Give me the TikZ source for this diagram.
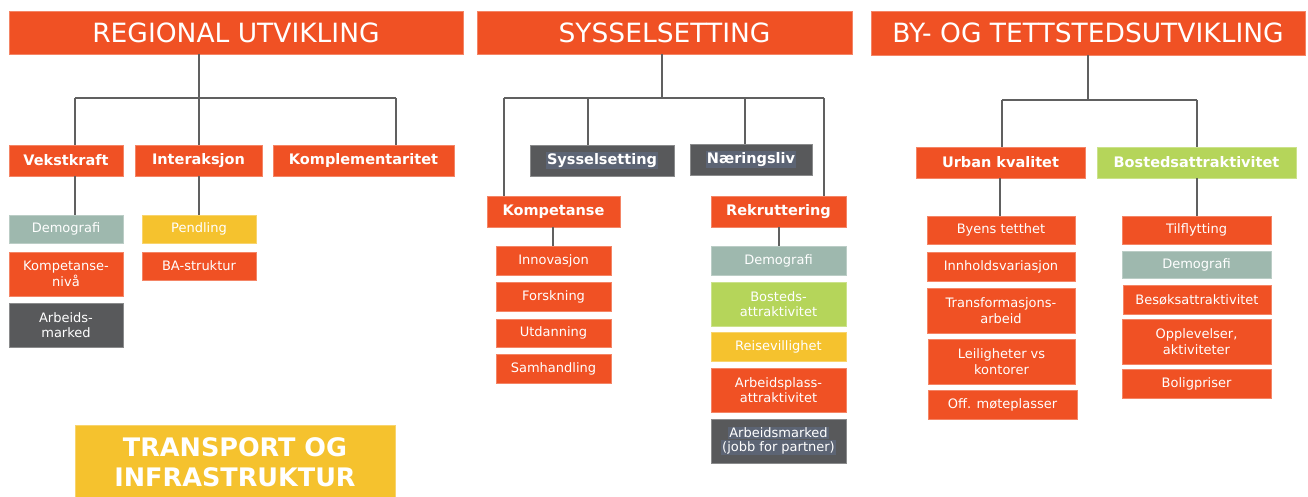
\documentclass[tikz,border=0pt]{standalone}
\usepackage{fontspec}
\setmainfont{DejaVu Sans}
\definecolor{orn}{RGB}{240,81,36}
\definecolor{sage}{RGB}{158,184,174}
\definecolor{yel}{RGB}{245,194,46}
\definecolor{lime}{RGB}{181,213,90}
\definecolor{slate}{RGB}{88,89,91}
\definecolor{hlgray}{RGB}{92,100,116}
\definecolor{wire}{RGB}{96,96,96}
% selection-style highlight behind a line of text
\newcommand{\hlt}[1]{{\setlength{\fboxsep}{1pt}\colorbox{hlgray}{#1}}}
\begin{document}
\begin{tikzpicture}[x=1pt,y=-1pt,
  box/.style={fill=#1, draw=#1!70!white, line width=0.8pt, text=white, inner sep=0pt, align=center},
  sz/.style 2 args={minimum width=#1pt, minimum height=#2pt},
  headbox/.style={box=orn, font=\fontsize{26.5}{30}\selectfont},
  catbox/.style={box=#1, font=\bfseries\fontsize{14.5}{17}\selectfont},
  itembox/.style={box=#1, font=\fontsize{13}{15.5}\selectfont},
  conn/.style={draw=wire, line width=2pt}]
\useasboundingbox (0,0) rectangle (1308,497);

% ---------- Regional utvikling ----------
\node[headbox, sz={454}{43}] (reg) at (236,32.5) {REGIONAL UTVIKLING};
\node[catbox=orn, sz={114}{31}] (vekst) at (66,160.5) {Vekstkraft};
\node[catbox=orn, sz={127}{31}] (inter) at (198.5,160.5) {Interaksjon};
\node[catbox=orn, sz={181}{31}] (kompl) at (363.5,160.5) {Komplementaritet};
\node[itembox=sage, sz={114}{28}] (demo1) at (66,229) {Demografi};
\node[itembox=orn, sz={114}{44}] (komp1) at (66,274) {Kompetanse-\\nivå};
\node[itembox=slate, sz={114}{44}] (arb1) at (66,325) {Arbeids-\\marked};
\node[itembox=yel, sz={114}{28}] (pend) at (199,229) {Pendling};
\node[itembox=orn, sz={114}{28}] (ba) at (199,266) {BA-struktur};

\coordinate (b1) at (199,98);
\coordinate (bus1L) at (75,98);
\coordinate (bus1R) at (396,98);
\draw[conn] (reg.south -| b1) -- (b1);
\draw[conn] (bus1L) -- (bus1R);
\draw[conn] (bus1L) -- (bus1L |- vekst.north);
\draw[conn] (b1) -- (b1 |- inter.north);
\draw[conn] (bus1R) -- (bus1R |- kompl.north);
\draw[conn] (vekst.south -| bus1L) -- (demo1.north -| bus1L);
\draw[conn] (inter.south -| b1) -- (pend.north -| b1);

% ---------- Transport og infrastruktur ----------
\node[box=yel, sz={320}{74}, font=\bfseries\fontsize{25.5}{30}\selectfont] (transport) at (235,462)
  {TRANSPORT OG\\INFRASTRUKTUR};

% ---------- Sysselsetting ----------
\node[headbox, sz={375}{43}] (sys) at (664.5,32.5) {SYSSELSETTING};
\node[catbox=slate, sz={144}{31}] (sysb) at (602,160.5) {\hlt{Sysselsetting}};
\node[catbox=slate, sz={122}{31}] (naer) at (751,159.5) {\hlt{Næringsliv}};
\node[catbox=orn, sz={133}{31}] (kompt) at (553.5,211.5) {Kompetanse};
\node[catbox=orn, sz={135}{31}] (rekr) at (778.5,211.5) {Rekruttering};
\node[itembox=orn, sz={115}{29}] (innov) at (553.5,260.5) {Innovasjon};
\node[itembox=orn, sz={115}{29}] (forsk) at (553.5,296.5) {Forskning};
\node[itembox=orn, sz={115}{28}] (utd) at (553.5,333) {Utdanning};
\node[itembox=orn, sz={115}{29}] (samh) at (553.5,368.5) {Samhandling};
\node[itembox=sage, sz={135}{29}] (demo2) at (778.5,260.5) {Demografi};
\node[itembox=lime, sz={135}{44}] (bost2) at (778.5,304) {Bosteds-\\attraktivitet};
\node[itembox=yel, sz={135}{29}] (reise) at (778.5,346.5) {Reisevillighet};
\node[itembox=orn, sz={135}{44}] (arbpl) at (778.5,390) {Arbeidsplass-\\attraktivitet};
\node[itembox=slate, sz={135}{44}, font=\fontsize{13}{13.5}\selectfont] (arbm2) at (778.5,441)
  {\hlt{Arbeidsmarked}\\\hlt{(jobb for partner)}};

\coordinate (b2) at (662,98);
\coordinate (bus2L) at (504,98);
\coordinate (bus2R) at (824,98);
\coordinate (b2s) at (588,98);
\coordinate (b2n) at (745,98);
\coordinate (k2) at (553,0);
\coordinate (r2) at (779,0);
\draw[conn] (sys.south -| b2) -- (b2);
\draw[conn] (bus2L) -- (bus2R);
\draw[conn] (bus2L) -- (bus2L |- kompt.north);
\draw[conn] (b2s) -- (b2s |- sysb.north);
\draw[conn] (b2n) -- (b2n |- naer.north);
\draw[conn] (bus2R) -- (bus2R |- rekr.north);
\draw[conn] (kompt.south -| k2) -- (innov.north -| k2);
\draw[conn] (rekr.south -| r2) -- (demo2.north -| r2);

% ---------- By- og tettstedsutvikling ----------
\node[headbox, sz={434}{44}] (by) at (1088,33) {BY- OG TETTSTEDSUTVIKLING};
\node[catbox=orn, sz={169}{31}] (urban) at (1000.5,162.5) {Urban kvalitet};
\node[catbox=lime, sz={199}{31}] (bosat) at (1196.5,162.5) {Bostedsattraktivitet};
\node[itembox=orn, sz={148}{28}] (byens) at (1001,230) {Byens tetthet};
\node[itembox=orn, sz={148}{29}] (innh) at (1001,266.5) {Innholdsvariasjon};
\node[itembox=orn, sz={148}{45}] (trans) at (1001,310.5) {Transformasjons-\\arbeid};
\node[itembox=orn, sz={147}{45}] (leil) at (1001.5,361.5) {Leiligheter vs\\kontorer};
\node[itembox=orn, sz={149}{29}] (off) at (1002.5,404.5) {Off. møteplasser};
\node[itembox=orn, sz={149}{28}] (tilf) at (1196.5,230) {Tilflytting};
\node[itembox=sage, sz={149}{27}] (demo3) at (1196.5,264.5) {Demografi};
\node[itembox=orn, sz={148}{29}] (besok) at (1197,299.5) {Besøksattraktivitet};
\node[itembox=orn, sz={149}{45}] (oppl) at (1196.5,341.5) {Opplevelser,\\aktiviteter};
\node[itembox=orn, sz={149}{29}] (bolig) at (1196.5,383.5) {Boligpriser};

\coordinate (b3) at (1088,100);
\coordinate (bus3L) at (1002,100);
\coordinate (bus3R) at (1197,100);
\coordinate (u3) at (1000,0);
\draw[conn] (by.south -| b3) -- (b3);
\draw[conn] (bus3L) -- (bus3R);
\draw[conn] (bus3L) -- (bus3L |- urban.north);
\draw[conn] (bus3R) -- (bus3R |- bosat.north);
\draw[conn] (urban.south -| u3) -- (byens.north -| u3);
\draw[conn] (bosat.south -| bus3R) -- (tilf.north -| bus3R);
\end{tikzpicture}
\end{document}
